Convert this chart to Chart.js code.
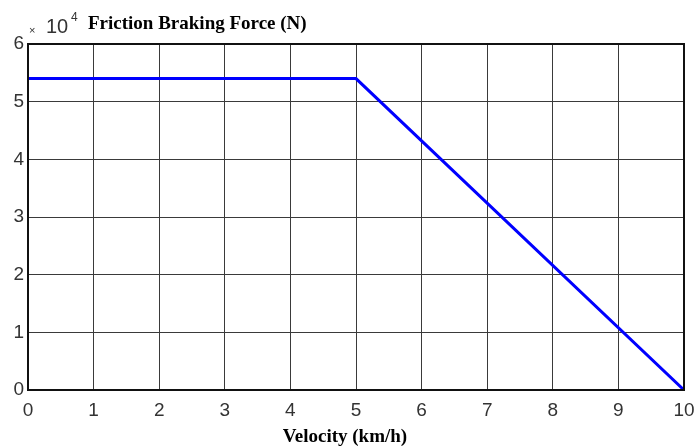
<!DOCTYPE html>
<html>
<head>
<meta charset="utf-8">
<title>Friction Braking Force</title>
<script src="https://cdn.jsdelivr.net/npm/chart.js@4.4.1/dist/chart.umd.min.js"></script>
<style>
  html, body { margin: 0; padding: 0; background: #ffffff; }
  #wrap { width: 696px; height: 448px; }
</style>
</head>
<body>
<div id="wrap"><canvas id="brakeChart" width="696" height="448"></canvas></div>
<script>
// velocity (km/h) and friction braking force (N)
const velocity = [0, 5, 10];
const brakingForce = [54000, 54000, 0];
const xTicks = [0, 1, 2, 3, 4, 5, 6, 7, 8, 9, 10];
const yTicks = [0, 10000, 20000, 30000, 40000, 50000, 60000];

const tickFont = { family: "'Liberation Sans', Arial, sans-serif", size: 19 };
const gridColor = '#3a3a3a';

// frame + title texts drawn over the canvas
const frameAndLabels = {
    id: 'frameAndLabels',
    afterDraw(chart) {
        const { ctx, chartArea: a } = chart;
        ctx.save();
        ctx.strokeStyle = '#111111';
        ctx.lineWidth = 2;
        ctx.strokeRect(a.left, a.top, a.right - a.left, a.bottom - a.top);

        ctx.fillStyle = '#333333';
        ctx.textBaseline = 'alphabetic';
        ctx.textAlign = 'left';
        ctx.font = "11px 'Liberation Sans', Arial, sans-serif";
        ctx.fillText('\u00d7', 29, 34);
        ctx.font = "20px 'Liberation Sans', Arial, sans-serif";
        ctx.fillText('10', 46, 33);
        ctx.font = "12px 'Liberation Sans', Arial, sans-serif";
        ctx.fillText('4', 71, 21);

        ctx.fillStyle = '#000000';
        ctx.font = "bold 19px 'Liberation Serif', 'Times New Roman', serif";
        ctx.fillText('Friction Braking Force (N)', 88, 29);
        ctx.textAlign = 'center';
        ctx.fillText('Velocity (km/h)', 345, 442);
        ctx.restore();
    }
};

new Chart(document.getElementById('brakeChart').getContext('2d'), {
    type: 'line',
    data: {
        datasets: [{
            label: 'Friction Braking Force (N)',
            data: velocity.map((v, i) => ({ x: v, y: brakingForce[i] })),
            borderColor: '#0000ff',
            borderWidth: 3,
            pointRadius: 0,
            tension: 0,
            fill: false
        }]
    },
    options: {
        responsive: false,
        animation: false,
        layout: { padding: { top: 44, right: 12, left: 0, bottom: 0 } },
        plugins: {
            legend: { display: false },
            tooltip: { enabled: false },
            title: { display: false }
        },
        scales: {
            x: {
                type: 'linear',
                min: 0,
                max: 10,
                afterBuildTicks: axis => { axis.ticks = xTicks.map(v => ({ value: v })); },
                afterFit: axis => {
                    axis.height = 58;
                    axis.paddingLeft = 0;
                    axis.paddingRight = 0;
                },
                grid: { color: gridColor, lineWidth: 1, drawTicks: false },
                border: { display: false },
                ticks: { color: '#333333', font: tickFont, padding: 9, maxRotation: 0 }
            },
            y: {
                type: 'linear',
                min: 0,
                max: 60000,
                afterBuildTicks: axis => { axis.ticks = yTicks.map(v => ({ value: v })); },
                afterFit: axis => {
                    axis.width = 28;
                    axis.paddingTop = 0;
                    axis.paddingBottom = 0;
                },
                grid: { color: gridColor, lineWidth: 1, drawTicks: false },
                border: { display: false },
                ticks: {
                    color: '#333333',
                    font: tickFont,
                    padding: 4,
                    callback: v => v / 10000
                }
            }
        }
    },
    plugins: [frameAndLabels]
});
</script>
</body>
</html>
